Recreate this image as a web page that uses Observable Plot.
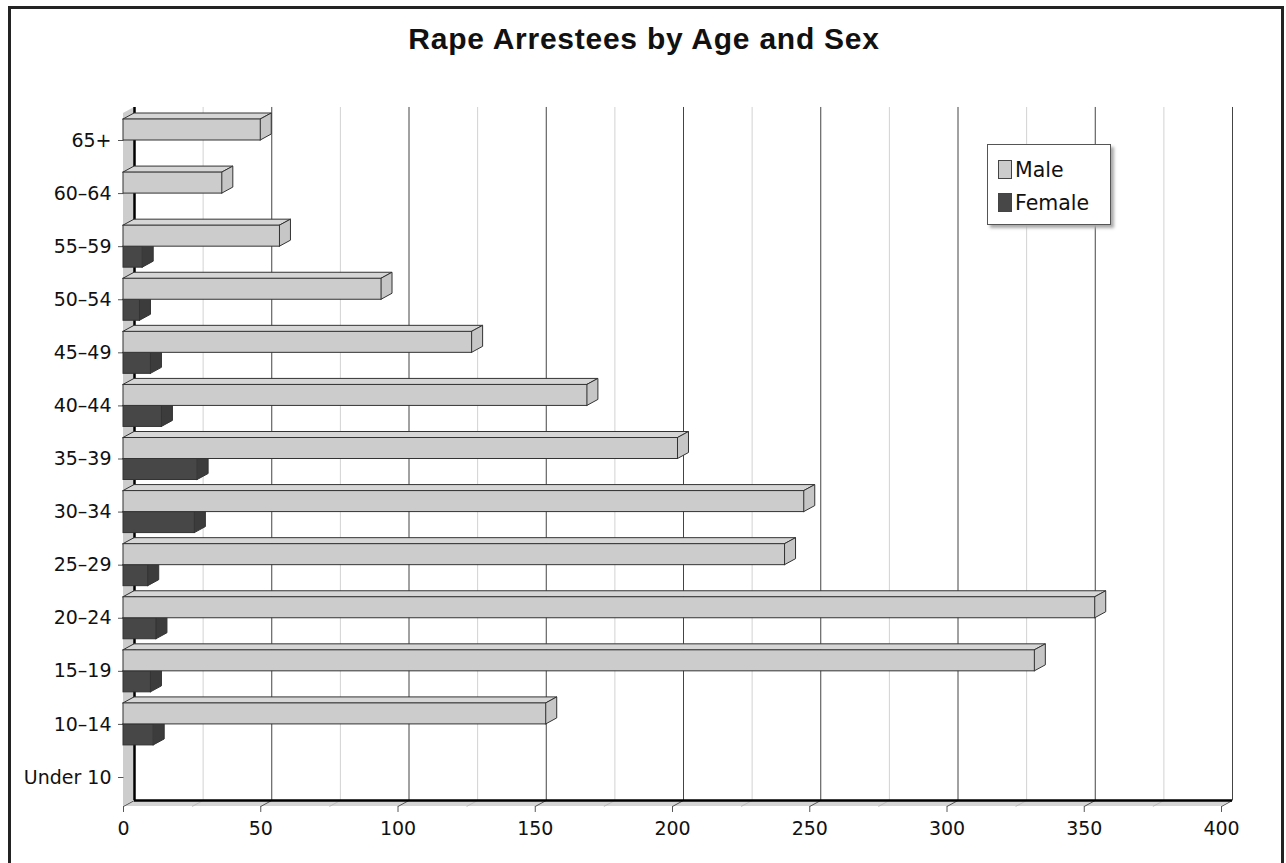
<!DOCTYPE html>
<html>
<head>
<meta charset="utf-8">
<script src="https://cdn.jsdelivr.net/npm/d3@7"></script>
<script src="https://cdn.jsdelivr.net/npm/@observablehq/plot@0.6"></script>
<style>
  html, body { margin: 0; padding: 0; background: #fff; }
  #wrap { position: relative; width: 1286px; height: 863px; overflow: hidden; background: #fff; }
  #frame { position: absolute; left: 8px; top: 6px; width: 1270px; height: 900px; border: 3px solid #232323; }
  #title { position: absolute; left: 0; top: 21px; width: 1288px; text-align: center;
           font-family: "Liberation Sans", Arial, sans-serif; font-weight: bold; font-size: 30px;
           letter-spacing: 0.75px; color: #111; line-height: 36px; }
  #chart { position: absolute; left: 0; top: 0; }
  #legend { position: absolute; left: 987px; top: 144px; width: 122px; height: 79px;
            border: 1px solid #555; background: #fff; box-shadow: 3px 3px 3px #aaa;
            font-family: "DejaVu Sans", sans-serif; font-size: 20.5px; color: #111; }
  .item { position: absolute; left: 10px; height: 24px; line-height: 24px; }
  .sw { display: inline-block; width: 12px; height: 17px; border: 1px solid #444; vertical-align: -2px; margin-right: 3px; }
</style>
</head>
<body>
<div id="wrap">
  <div id="frame"></div>
  <div id="title">Rape Arrestees by Age and Sex</div>
  <div id="chart"></div>
  <div id="legend">
    <div class="item" style="top:13px"><span class="sw" style="background:#cccccc"></span>Male</div>
    <div class="item" style="top:46px"><span class="sw" style="background:#474747"></span>Female</div>
  </div>
</div>
<script>
// ---- data ----
const ages = ["Under 10","10–14","15–19","20–24","25–29","30–34","35–39","40–44","45–49","50–54","55–59","60–64","65+"];
const male = [0,154,332,354,241,248,202,169,127,94,57,36,50];
const female = [0,11,10,12,9,26,27,14,10,6,7,0,0];
const xTicks = [0,50,100,150,200,250,300,350,400];
const xMinor = [25,75,125,175,225,275,325,375];

// ---- geometry helpers (in scale units) ----
const pxX = (1221 - 123) / 400;      // px per x unit
const pxY = (777 - 140) / 12;        // px per category
const DX = 11 / pxX;                 // 3D depth in x units
const DY = 6 / pxY;                  // 3D depth in y units
const H = 21 / pxY;                  // bar thickness
const f0 = -0.546;                   // front floor
const top0 = 12.509;                 // front top

function faces(values, series) {
  const fronts = [], tops = [], sides = [];
  values.forEach((v, i) => {
    if (!(v > 0)) return;
    const y0 = series === "Male" ? i : i - H;
    const y1 = series === "Male" ? i + H : i;
    const key = series + i;
    fronts.push({x1: 0, x2: v, y1: y0, y2: y1});
    tops.push({k: key, y: y1, x1: 0, x2: v});
    tops.push({k: key, y: y1 + DY, x1: DX, x2: v + DX});
    sides.push({k: key, x: v, y1: y0, y2: y1});
    sides.push({k: key, x: v + DX, y1: y0 + DY, y2: y1 + DY});
  });
  return {fronts, tops, sides};
}
const F = faces(female, "Female");
const M = faces(male, "Male");

const barMarks = (d, front, top, side) => [
  Plot.areaX(d.tops, {x1: "x1", x2: "x2", y: "y", z: "k", fill: top, stroke: "#333", strokeWidth: 1}),
  Plot.areaY(d.sides, {x: "x", y1: "y1", y2: "y2", z: "k", fill: side, stroke: "#333", strokeWidth: 1}),
  Plot.rect(d.fronts, {x1: "x1", x2: "x2", y1: "y1", y2: "y2", fill: front, stroke: "#333", strokeWidth: 1})
];

const idx = ages.map((a, i) => i);

const chart = Plot.plot({
  width: 1286,
  height: 863,
  margin: 0,
  style: {background: "transparent", fontFamily: "DejaVu Sans, sans-serif"},
  x: {domain: [0, 400], range: [123, 1221], axis: null},
  y: {domain: [0, 12], range: [777, 140], axis: null},
  marks: [
    // left wall
    Plot.areaY([{x: 0, y1: f0, y2: top0}, {x: DX, y1: f0 + DY, y2: top0 + DY}], {x: "x", y1: "y1", y2: "y2", fill: "#cdcdcd"}),
    // floor
    Plot.areaX([{y: f0, x1: 0, x2: 400}, {y: f0 + DY, x1: DX, x2: 400 + DX}], {x1: "x1", x2: "x2", y: "y", fill: "#d4d4d4"}),
    // back wall grid
    Plot.ruleX(xMinor, {x: d => d + DX, y1: f0 + DY, y2: top0 + DY, stroke: "#d2d2d2", strokeWidth: 1}),
    Plot.ruleX(xTicks.slice(1), {x: d => d + DX, y1: f0 + DY, y2: top0 + DY, stroke: "#444", strokeWidth: 1}),
    // floor diagonals
    Plot.link(xMinor, {x1: d => d, y1: f0, x2: d => d + DX, y2: f0 + DY, stroke: "#bbb", strokeWidth: 1}),
    Plot.link(xTicks, {x1: d => d, y1: f0, x2: d => d + DX, y2: f0 + DY, stroke: "#555", strokeWidth: 1}),
    // back axis lines
    Plot.ruleY([f0 + DY], {x1: DX, x2: 400 + DX, stroke: "#000", strokeWidth: 2.5}),
    Plot.ruleX([DX], {y1: f0 + DY, y2: top0 + DY, stroke: "#000", strokeWidth: 2.5}),
    // front x ticks
    Plot.ruleX(xTicks, {x: d => d, y1: f0, y2: f0 - 6 / pxY, stroke: "#555", strokeWidth: 1}),
    Plot.text(xTicks, {x: d => d, y: f0, dy: 22, text: d => String(d), fontSize: 19, fill: "#111"}),
    // y ticks and labels
    Plot.link(idx, {x1: -5.5 / pxX, x2: 0, y1: d => d, y2: d => d, stroke: "#555", strokeWidth: 1}),
    Plot.text(idx, {x: 0, y: d => d, dx: -12, text: d => ages[d], textAnchor: "end", fontSize: 19, fill: "#111"}),
    // bars
    ...barMarks(F, "#474747", "#5a5a5a", "#3c3c3c"),
    ...barMarks(M, "#cccccc", "#d6d6d6", "#c6c6c6")
  ]
});
document.getElementById("chart").appendChild(chart);
</script>
</body>
</html>
